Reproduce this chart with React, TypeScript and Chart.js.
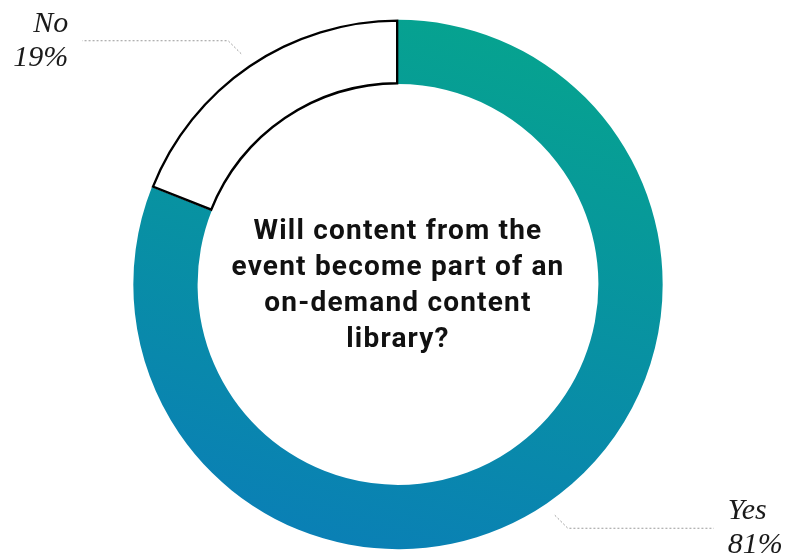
import React, { useEffect, useRef } from "react";
import { Chart, registerables } from "chart.js";

Chart.register(...registerables);

const categories = ["Yes", "No"];
const values = [81, 19];
const percentLabels = ["81%", "19%"];
const centerLines = [
  "Will content from the",
  "event become part of an",
  "on-demand content",
  "library?",
];

const W = 794;
const H = 558;

const labelPlugin = {
  id: "sliceLabels",
  afterDatasetsDraw(chart: any) {
    const ctx = chart.ctx as CanvasRenderingContext2D;
    const meta = chart.getDatasetMeta(0);
    meta.data.forEach((arc: any, i: number) => {
      const { x, y, startAngle, endAngle, outerRadius } = arc.getProps(
        ["x", "y", "startAngle", "endAngle", "outerRadius"],
        true
      );
      const mid = (startAngle + endAngle) / 2;
      const c = Math.cos(mid);
      const s = Math.sin(mid);
      const sx = c >= 0 ? 1 : -1;
      const sy = s >= 0 ? 1 : -1;
      const p1x = x + c * (outerRadius + 14);
      const p1y = y + s * (outerRadius + 14);
      const p2x = p1x + sx * 13;
      const p2y = p1y + sy * 13;
      const p3x = p2x + sx * 146;
      ctx.save();
      ctx.strokeStyle = "#9a9a9a";
      ctx.lineWidth = 1;
      ctx.setLineDash([2, 2]);
      ctx.beginPath();
      ctx.moveTo(p1x, p1y);
      ctx.lineTo(p2x, p2y);
      ctx.lineTo(p3x, p2y);
      ctx.stroke();
      ctx.setLineDash([]);
      ctx.fillStyle = "#1a1a1a";
      ctx.font = 'italic 30px "Liberation Serif", "Times New Roman", serif';
      ctx.textAlign = sx > 0 ? "left" : "right";
      ctx.textBaseline = "alphabetic";
      const tx = p3x + sx * 14;
      ctx.fillText(categories[i], tx, p2y - 9);
      ctx.fillText(percentLabels[i], tx, p2y + 25);
      ctx.restore();
    });
  },
};

export default function App() {
  const ref = useRef<HTMLCanvasElement>(null);

  useEffect(() => {
    if (!ref.current) return;
    const chart = new Chart(ref.current, {
      type: "doughnut",
      data: {
        labels: categories,
        datasets: [
          {
            data: values,
            backgroundColor: (context: any) => {
              const i = context.dataIndex;
              if (i === 1) return "#ffffff";
              const ch = context.chart;
              const area = ch.chartArea;
              if (!area) return "#0896a8";
              const cx = (area.left + area.right) / 2;
              const cy = (area.top + area.bottom) / 2;
              const r = 265;
              const g = ch.ctx.createLinearGradient(
                cx + 0.3 * r,
                cy - r,
                cx - 0.3 * r,
                cy + r
              );
              g.addColorStop(0, "#06a38f");
              g.addColorStop(1, "#0a7fb6");
              return g;
            },
            borderColor: ["rgba(0,0,0,0)", "#000000"],
            borderWidth: [0, 2],
            borderAlign: "inner",
          } as any,
        ],
      },
      options: {
        responsive: false,
        animation: false,
        radius: 265,
        cutout: "75.5%",
        layout: { padding: { top: 11, left: 2, right: 0, bottom: 0 } },
        plugins: {
          legend: { display: false },
          tooltip: { enabled: false },
          title: { display: false },
        },
      } as any,
      plugins: [labelPlugin],
    });
    return () => chart.destroy();
  }, []);

  return (
    <div
      style={{
        position: "fixed",
        left: 0,
        top: 0,
        width: W,
        height: H,
        background: "#ffffff",
      }}
    >
      <canvas ref={ref} width={W} height={H} style={{ width: W, height: H }} />
      <div
        style={{
          position: "absolute",
          left: 398 - 200,
          top: 284 - 72,
          width: 400,
          textAlign: "center",
          fontFamily: "Roboto, 'Noto Sans', sans-serif",
          fontWeight: 700,
          fontSize: 28,
          letterSpacing: "1.2px",
          lineHeight: "36px",
          color: "#111111",
        }}
      >
        {centerLines.map((l, i) => (
          <div key={i}>{l}</div>
        ))}
      </div>
    </div>
  );
}
